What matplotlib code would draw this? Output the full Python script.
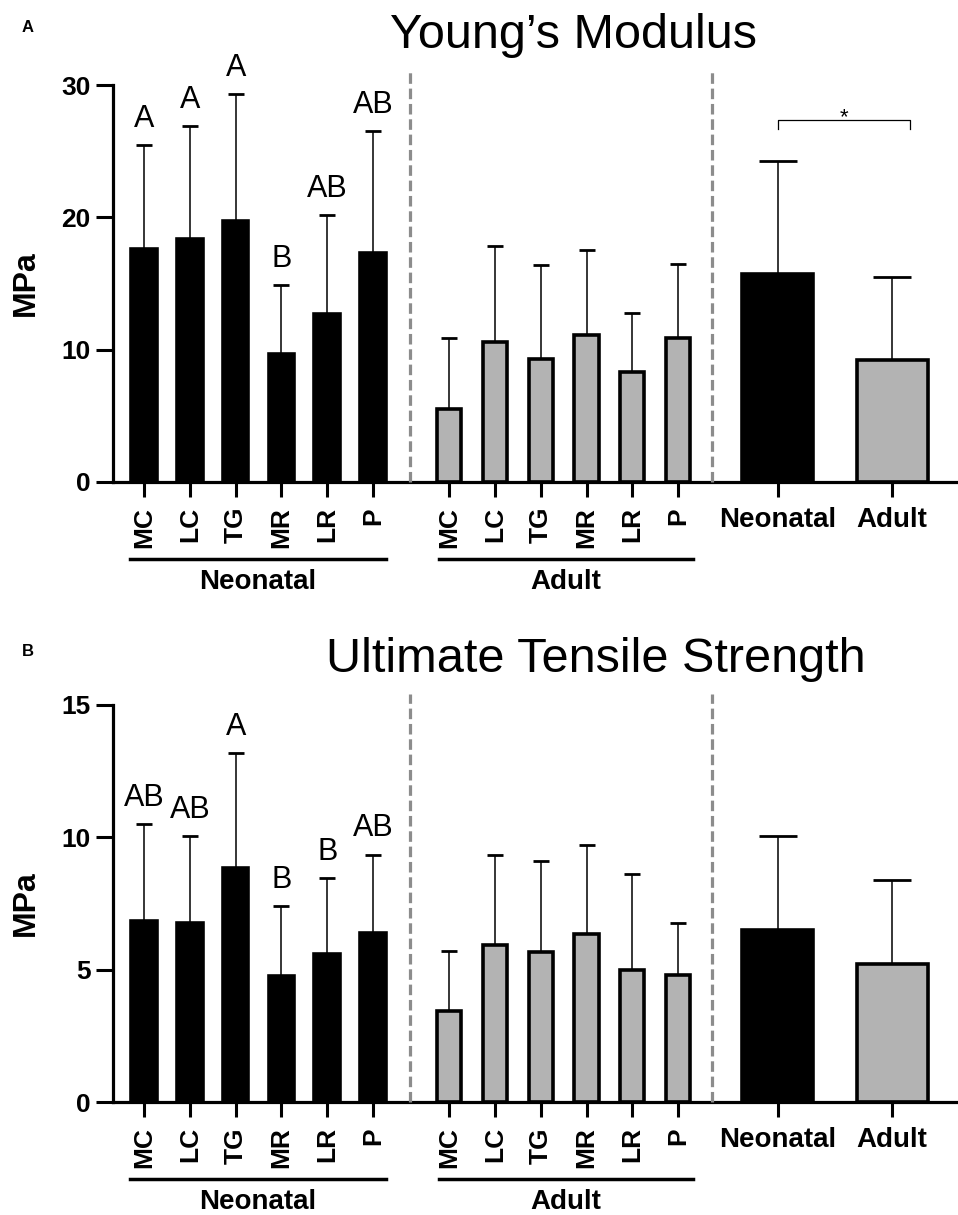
import matplotlib
matplotlib.use("Agg")
import matplotlib.pyplot as plt
import matplotlib.transforms as mtransforms
import numpy as np

plt.rcParams['font.family'] = ['Liberation Sans', 'DejaVu Sans']

sites = ["MC", "LC", "TG", "MR", "LR", "P"]
groups = ["Neonatal", "Adult"]

# Young's modulus (MPa), mean and SD
ym_neo = [17.6, 18.4, 19.7, 9.7, 12.7, 17.3]
ym_neo_sd = [7.9, 8.5, 9.6, 5.2, 7.5, 9.2]
ym_adult = [5.5, 10.6, 9.3, 11.1, 8.3, 10.9]
ym_adult_sd = [5.4, 7.2, 7.1, 6.4, 4.5, 5.6]
ym_pooled = [15.7, 9.2]
ym_pooled_sd = [8.6, 6.3]
ym_letters = ["A", "A", "A", "B", "AB", "AB"]

# Ultimate tensile strength (MPa), mean and SD
uts_neo = [6.85, 6.75, 8.85, 4.75, 5.6, 6.4]
uts_neo_sd = [3.65, 3.3, 4.35, 2.65, 2.85, 2.95]
uts_adult = [3.45, 5.95, 5.65, 6.35, 5.0, 4.8]
uts_adult_sd = [2.25, 3.4, 3.45, 3.35, 3.6, 1.95]
uts_pooled = [6.5, 5.2]
uts_pooled_sd = [3.55, 3.2]
uts_letters = ["AB", "AB", "A", "B", "B", "AB"]

x_neo = np.arange(6)
x_adult = np.arange(6) + 6.66
x_pool = np.array([13.84, 16.33])
x_dash = [5.81, 12.40]
gray = "#b3b3b3"


def draw_panel(ax, neo, neo_sd, adult, adult_sd, pooled, pooled_sd, letters,
               ymax, step, dash_top, star=False):
    ax.bar(x_neo, neo, width=0.56, color="black", edgecolor="black", lw=2.6, zorder=2)
    ax.bar(x_adult, adult, width=0.53, color=gray, edgecolor="black", lw=2.6, zorder=2)
    ax.bar(x_pool, pooled, width=1.55, color=["black", gray], edgecolor="black", lw=2.6, zorder=2)

    ax.errorbar(x_neo, neo, yerr=[np.zeros(6), neo_sd], fmt="none", ecolor="black",
                elinewidth=1.1, capsize=5.5, capthick=2, zorder=1)
    ax.errorbar(x_adult, adult, yerr=[np.zeros(6), adult_sd], fmt="none", ecolor="black",
                elinewidth=1.1, capsize=5.5, capthick=2, zorder=1)
    ax.errorbar(x_pool, pooled, yerr=[np.zeros(2), pooled_sd], fmt="none", ecolor="black",
                elinewidth=1.1, capsize=14, capthick=2, zorder=1)

    for x, m, s, lab in zip(x_neo, neo, neo_sd, letters):
        ax.annotate(lab, (x, m + s), xytext=(0, 13), textcoords="offset points",
                    ha="center", va="baseline", fontsize=22)

    for xd in x_dash:
        ax.plot([xd, xd], [0, dash_top], color="#8c8c8c", lw=2.3,
                ls=(0, (3.3, 1.5)), clip_on=False, zorder=3)

    if star:
        x0, x1 = x_pool[0], 16.72
        yb = ymax * 0.912
        ax.plot([x0, x0, x1, x1], [yb - 0.7, yb, yb, yb - 0.7], color="black", lw=0.9,
                clip_on=False)
        ax.text((x0 + x1) / 2, yb - 0.25, "*", ha="center", va="baseline", fontsize=16)

    ax.set_xlim(-0.677, 17.77)
    ax.set_ylim(0, ymax * 1.05)
    ax.set_yticks(np.arange(0, ymax + 0.1, step))
    ax.set_xticks(list(x_neo) + list(x_adult) + list(x_pool))
    ax.set_xticklabels(sites + sites + groups, fontweight="bold")
    for i, t in enumerate(ax.get_xticklabels()):
        if i < 12:
            t.set_rotation(90)
            t.set_fontsize(19)
        else:
            t.set_fontsize(20)
    for t in ax.get_yticklabels():
        t.set_fontweight("bold")
        t.set_fontsize(19)
    ax.tick_params(axis="x", length=11, width=2.2, pad=7)
    ax.tick_params(axis="y", length=12, width=2.2, pad=4)

    for sp in ["top", "right"]:
        ax.spines[sp].set_visible(False)
    ax.spines["left"].set_linewidth(2.3)
    ax.spines["bottom"].set_linewidth(2.3)
    ax.spines["left"].set_bounds(0, ymax)

    ax.set_ylabel("MPa", fontsize=23, fontweight="bold")
    ax.yaxis.set_label_coords(-0.103, (ymax / 2) / (ymax * 1.05))
    ax.yaxis.label.set_verticalalignment("center")

    trans = mtransforms.blended_transform_factory(ax.transData, ax.transAxes)
    spans = [(-0.306, 5.28), (6.44, 11.99)]
    for (a, b), g in zip(spans, groups):
        ax.plot([a, b], [-0.1847, -0.1847], transform=trans, color="black", lw=2.5,
                clip_on=False)
        ax.text((a + b) / 2, -0.2566, g, transform=trans, ha="center", va="baseline",
                fontsize=20, fontweight="bold")


fig = plt.figure(figsize=(9.58, 12.15), dpi=100)
ax1 = fig.add_axes([0.118, 0.6033, 0.882, 0.3430])
ax2 = fig.add_axes([0.118, 0.0930, 0.882, 0.3431])

draw_panel(ax1, ym_neo, ym_neo_sd, ym_adult, ym_adult_sd, ym_pooled, ym_pooled_sd,
           ym_letters, 30, 10, 31.2, star=True)
draw_panel(ax2, uts_neo, uts_neo_sd, uts_adult, uts_adult_sd, uts_pooled, uts_pooled_sd,
           uts_letters, 15, 5, 15.4)

fig.text(0.599, 0.9605, "Young\u2019s Modulus", ha="center", va="baseline", fontsize=35)
fig.text(0.6216, 0.4469, "Ultimate Tensile Strength", ha="center", va="baseline", fontsize=35)
fig.text(28 / 958, 1 - 28 / 1215, "A", ha="center", va="center", fontsize=12, fontweight="bold")
fig.text(28 / 958, 1 - 652 / 1215, "B", ha="center", va="center", fontsize=12, fontweight="bold")

fig.savefig("out.png", dpi=100)
